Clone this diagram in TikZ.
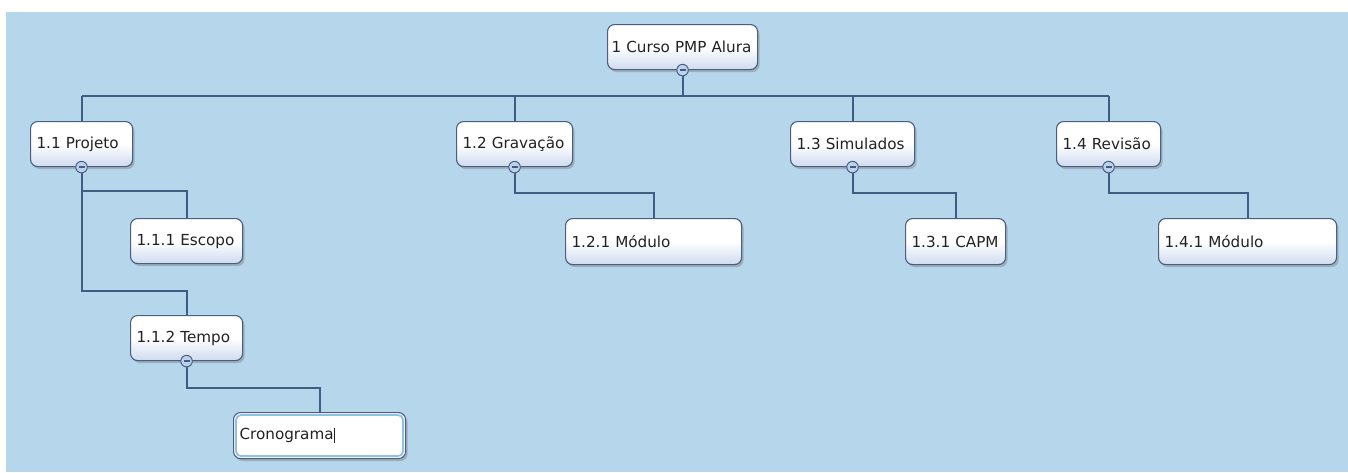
\documentclass[tikz,border=0pt]{standalone}
\usepackage{fontspec}
\setmainfont{DejaVu Sans}
\usetikzlibrary{shadows}
\definecolor{bgblue}{HTML}{B6D6EB}
\definecolor{linecol}{HTML}{405C82}
\definecolor{bordercol}{HTML}{4A5F80}
\definecolor{nodebot}{HTML}{CFDBF0}
\definecolor{togglefill}{HTML}{BCD2EA}
\definecolor{editblue}{HTML}{8FC0E8}
\definecolor{txtcol}{HTML}{222222}
\tikzset{
  box/.style={rectangle, rounded corners=7pt, draw=bordercol, line width=1.1pt,
    top color=white, bottom color=nodebot, middle color=white,
    drop shadow={shadow xshift=2pt, shadow yshift=-2.5pt, opacity=0.45},
    minimum height=45pt, inner xsep=6pt, inner ysep=0pt, align=left,
    anchor=north west, font=\fontsize{15.2pt}{17pt}\selectfont, text=txtcol},
  editbox/.style={box, top color=white, bottom color=white, middle color=white},
  conn/.style={draw=linecol, line width=2pt},
  toggle/.style={circle, draw=bordercol, fill=togglefill, line width=1pt,
    minimum size=11.5pt, inner sep=0pt,
    path picture={\draw[linecol, line width=1.4pt]
      ([xshift=-3pt]path picture bounding box.center) --
      ([xshift=3pt]path picture bounding box.center);}}
}
\begin{document}
\begin{tikzpicture}[x=1pt,y=-1pt]
\fill[white] (0,0) rectangle (1348,472);
\fill[bgblue] (6,12) rectangle (1348,472);
\useasboundingbox (0,0) rectangle (1348,472);

% nodes
\node[box, text width=142pt, inner xsep=4pt] (root) at (607,24) {1 Curso PMP Alura};
\node[box, text width=90pt] (n11) at (30,121) {1.1 Projeto};
\node[box, text width=104pt] (n12) at (456,121) {1.2 Gravação};
\node[box, text width=112pt] (n13) at (790,121) {1.3 Simulados};
\node[box, text width=92pt] (n14) at (1056,121) {1.4 Revisão};
\node[box, text width=100pt] (n111) at (130,218) {1.1.1 Escopo};
\node[box, text width=100pt] (n112) at (130,315) {1.1.2 Tempo};
\node[box, text width=164pt, minimum height=46pt] (n121) at (565,218) {1.2.1 Módulo};
\node[box, text width=88pt, minimum height=46pt] (n131) at (905,218) {1.3.1 CAPM};
\node[box, text width=166pt, minimum height=46pt] (n141) at (1158,218) {1.4.1 Módulo};
\node[editbox, text width=160pt, minimum height=46pt] (cron) at (233,412) {Cronograma\kern0.5pt\rule[-3pt]{0.9pt}{15pt}};
\draw[editblue, line width=1.8pt, rounded corners=5pt]
  ([shift={(3,3)}]cron.north west) rectangle ([shift={(-3,-3)}]cron.south east);

% connectors
\coordinate (bus) at (0,96);
\draw[conn] (root.south) -- (root.south |- bus);
\draw[conn] (bus -| n11.north) -- (bus -| n14.north);
\draw[conn] (bus -| n11.north) -- (n11.north);
\draw[conn] (bus -| n12.north) -- (n12.north);
\draw[conn] (bus -| n13.north) -- (n13.north);
\draw[conn] (bus -| n14.north) -- (n14.north);

\draw[conn] (n11.south) -- ++(0,24) -| (n111.north);
\draw[conn] (n11.south) -- ++(0,124) -| (n112.north);
\draw[conn] (n112.south) -- ++(0,27) -| (cron.north);
\draw[conn] (n12.south) -- ++(0,26) -| (n121.north);
\draw[conn] (n13.south) -- ++(0,26) -| (n131.north);
\draw[conn] (n14.south) -- ++(0,26) -| (n141.north);

% toggles
\node[toggle] (t0) at (root.south) {};
\node[toggle] (t11) at (n11.south) {};
\node[toggle] (t12) at (n12.south) {};
\node[toggle] (t13) at (n13.south) {};
\node[toggle] (t14) at (n14.south) {};
\node[toggle] (t112) at (n112.south) {};
\end{tikzpicture}
\end{document}
